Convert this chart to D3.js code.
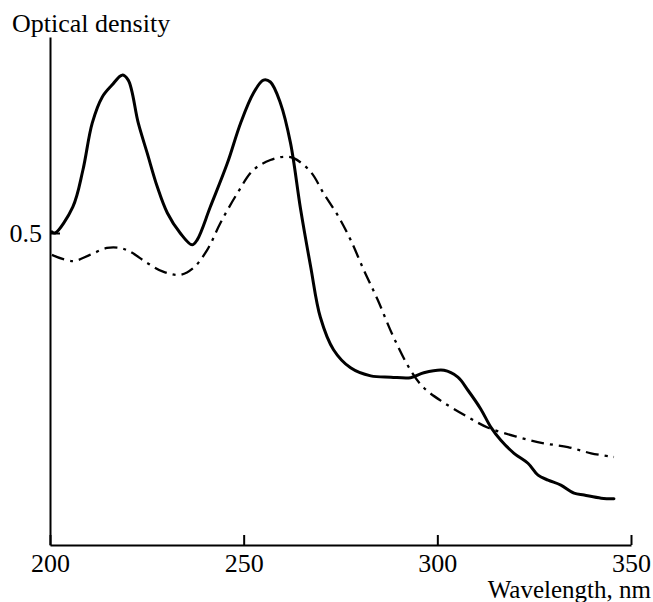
<!DOCTYPE html>
<html>
<head>
<meta charset="utf-8">
<script src="https://cdn.jsdelivr.net/npm/d3@7"></script>
<style>
  html, body { margin: 0; padding: 0; background: #fff; }
  svg { display: block; }
  text { font-family: "Liberation Serif", "Times New Roman", serif; fill: #000; }
</style>
</head>
<body>
<svg id="chart" width="653" height="602"></svg>
<script>
// ---- Data ----
const xTicks = [200, 250, 300, 350];
const yTicks = [0.5];
const xLabel = "Wavelength, nm";
const yLabel = "Optical density";

// Solid curve
const solidWl = [200.5, 201.3, 205.9, 208.5, 210.9, 213.5, 216.0, 218.6, 220.2, 222.8, 225.1, 227.7, 230.3, 233.6, 236.7, 238.0, 241.4, 245.8, 249.2, 252.5, 255.1, 256.9, 259.5, 262.1, 264.7, 267.3, 269.8, 273.2, 277.6, 282.8, 288.0, 293.1, 296.5, 301.7, 305.3, 307.9, 311.2, 313.8, 316.4, 319.8, 323.4, 326.0, 328.6, 331.9, 335.3, 337.9, 342.3, 345.6];
const solidOD = [0.502, 0.500, 0.542, 0.601, 0.676, 0.718, 0.737, 0.753, 0.745, 0.676, 0.628, 0.574, 0.532, 0.500, 0.481, 0.489, 0.542, 0.612, 0.676, 0.724, 0.745, 0.742, 0.708, 0.644, 0.538, 0.446, 0.365, 0.313, 0.284, 0.271, 0.269, 0.268, 0.276, 0.280, 0.269, 0.248, 0.218, 0.189, 0.168, 0.147, 0.131, 0.112, 0.104, 0.096, 0.083, 0.080, 0.075, 0.074];

// Dash-dot curve
const dashWl = [200.5, 205.9, 210.3, 214.7, 218.1, 220.7, 225.1, 229.2, 233.6, 237.0, 240.6, 244.0, 248.4, 252.5, 256.9, 260.3, 262.9, 267.3, 270.6, 274.5, 277.6, 281.0, 284.6, 288.7, 293.1, 296.5, 301.7, 307.9, 313.1, 320.8, 327.5, 333.7, 339.7, 345.6];
const dashOD = [0.465, 0.455, 0.465, 0.476, 0.476, 0.470, 0.452, 0.438, 0.433, 0.444, 0.473, 0.516, 0.564, 0.601, 0.617, 0.622, 0.620, 0.598, 0.564, 0.526, 0.489, 0.441, 0.393, 0.333, 0.280, 0.252, 0.228, 0.205, 0.188, 0.173, 0.163, 0.157, 0.147, 0.141];

// ---- Drawing ----
const svg = d3.select("#chart");
const x = d3.scaleLinear().domain([200, 350]).range([50, 631]);
const y = d3.scaleLinear().domain([0, 0.8141]).range([545, 37]);

const FONT = 26;

// X axis
const gx = svg.append("g").attr("transform", `translate(0,${y(0)})`)
  .call(d3.axisBottom(x).tickValues(xTicks).tickSize(-10).tickSizeOuter(0).tickFormat(d3.format("d")));
gx.select(".domain").attr("stroke", "#000").attr("stroke-width", 2);
gx.selectAll(".tick line").attr("stroke", "#000").attr("stroke-width", 2);
gx.selectAll(".tick text").attr("y", 27).attr("dy", 0)
  .style("font-family", '"Liberation Serif", serif').style("font-size", FONT + "px").attr("fill", "#000");

// Y axis
const gy = svg.append("g").attr("transform", `translate(${x(200)},0)`)
  .call(d3.axisLeft(y).tickValues(yTicks).tickSize(-10).tickSizeOuter(0).tickPadding(8).tickFormat(d3.format(".1f")));
gy.select(".domain").attr("stroke", "#000").attr("stroke-width", 2);
gy.selectAll(".tick line").attr("stroke", "#000").attr("stroke-width", 2);
gy.selectAll(".tick text").attr("dy", "0.33em")
  .style("font-family", '"Liberation Serif", serif').style("font-size", FONT + "px").attr("fill", "#000");

// Axis titles
svg.append("text").attr("x", 12).attr("y", 32).style("font-size", FONT + "px").text(yLabel);
svg.append("text").attr("x", 651).attr("y", 598).attr("text-anchor", "end").style("font-size", "25px").text(xLabel);

// Curves
const line = d3.line().x(d => x(d[0])).y(d => y(d[1])).curve(d3.curveCatmullRom.alpha(0.5));

svg.append("path")
  .datum(dashWl.map((w, i) => [w, dashOD[i]]))
  .attr("d", line)
  .attr("fill", "none").attr("stroke", "#000").attr("stroke-width", 2.3)
  .attr("stroke-dasharray", "13,6,3,6");

svg.append("path")
  .datum(solidWl.map((w, i) => [w, solidOD[i]]))
  .attr("d", line)
  .attr("fill", "none").attr("stroke", "#000").attr("stroke-width", 3)
  .attr("stroke-linejoin", "round").attr("stroke-linecap", "round");
</script>
</body>
</html>
